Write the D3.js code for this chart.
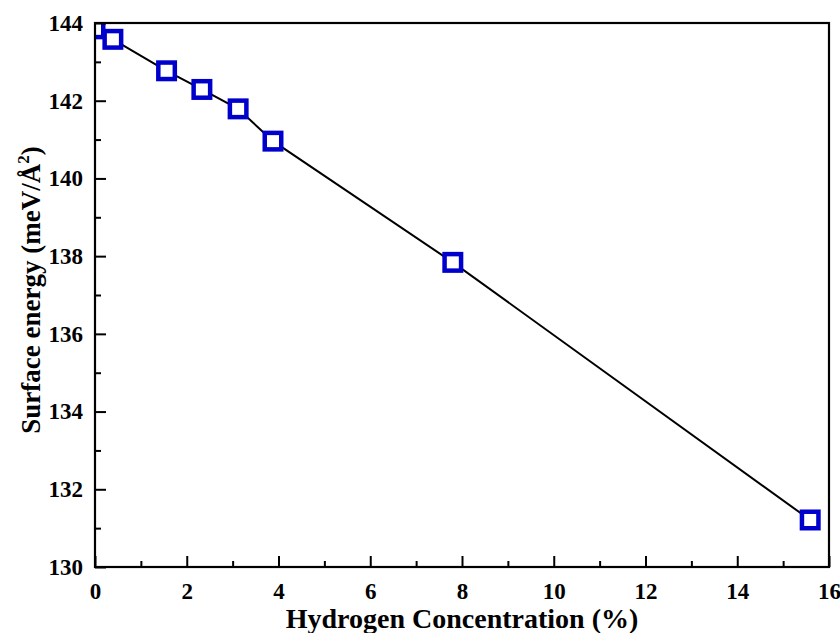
<!DOCTYPE html>
<html>
<head>
<meta charset="utf-8">
<script src="https://cdn.jsdelivr.net/npm/d3@7"></script>
<style>
  html, body { margin: 0; padding: 0; background: #fff; }
  svg { display: block; }
  text { font-family: "Liberation Serif", "Times New Roman", serif; font-weight: bold; fill: #000; }
</style>
</head>
<body>
<svg id="chart" width="840" height="633"></svg>
<script>
// Data
const hydrogen = [0.0, 0.39, 1.56, 2.33, 3.12, 3.88, 7.80, 15.59];
const surfaceEnergy = [143.85, 143.58, 142.77, 142.29, 141.79, 140.96, 137.84, 131.21];
const xTickValues = [0, 2, 4, 6, 8, 10, 12, 14, 16];
const yTickValues = [130, 132, 134, 136, 138, 140, 142, 144];
const xMinorValues = [1, 3, 5, 7, 9, 11, 13, 15];
const yMinorValues = [131, 133, 135, 137, 139, 141, 143];
const xTitle = "Hydrogen Concentration (%)";

const svg = d3.select("#chart");
const L = 95, R = 829, T = 23, B = 567;
const SERIF = '"Liberation Serif", "Times New Roman", serif';

const x = d3.scaleLinear().domain([0, 16]).range([L, R]);
const y = d3.scaleLinear().domain([130, 144]).range([B, T]);

svg.append("defs").append("clipPath").attr("id", "plotclip")
  .append("rect").attr("x", L).attr("y", T).attr("width", R - L).attr("height", B - T);

const data = hydrogen.map((h, i) => ({ h, e: surfaceEnergy[i] }));

const plot = svg.append("g").attr("clip-path", "url(#plotclip)");

plot.append("path")
  .datum(data)
  .attr("fill", "none")
  .attr("stroke", "#000")
  .attr("stroke-width", 2)
  .attr("d", d3.line().x(d => x(d.h)).y(d => y(d.e)));

const ms = 16.5;
plot.selectAll("rect.mk")
  .data(data)
  .enter().append("rect")
  .attr("class", "mk")
  .attr("x", d => x(d.h) - ms / 2)
  .attr("y", d => y(d.e) - ms / 2)
  .attr("width", ms)
  .attr("height", ms)
  .attr("fill", "#fff")
  .attr("stroke", "#0000cc")
  .attr("stroke-width", 4.5);

const xAxis = d3.axisBottom(x).tickValues(xTickValues).tickSize(-11).tickPadding(16).tickFormat(d3.format("d"));
const xMinor = d3.axisBottom(x).tickValues(xMinorValues).tickSize(-6).tickFormat("");
const yAxis = d3.axisLeft(y).tickValues(yTickValues).tickSize(-11).tickPadding(12).tickFormat(d3.format("d"));
const yMinor = d3.axisLeft(y).tickValues(yMinorValues).tickSize(-6).tickFormat("");

function styleAxis(g) {
  g.attr("font-family", SERIF).attr("font-size", 23).attr("font-weight", "bold");
  g.select(".domain").remove();
  g.selectAll(".tick line").attr("stroke", "#000").attr("stroke-width", 2);
  g.selectAll(".tick text")
    .style("font-size", "23px")
    .style("font-family", SERIF)
    .style("font-weight", "bold")
    .attr("fill", "#000");
}

svg.append("g").attr("transform", `translate(0,${B})`).call(xAxis).call(styleAxis);
svg.append("g").attr("transform", `translate(0,${B})`).call(xMinor).call(styleAxis);
svg.append("g").attr("transform", `translate(${L},0)`).call(yAxis).call(styleAxis);
svg.append("g").attr("transform", `translate(${L},0)`).call(yMinor).call(styleAxis);

svg.append("rect")
  .attr("x", L).attr("y", T).attr("width", R - L).attr("height", B - T)
  .attr("fill", "none").attr("stroke", "#000").attr("stroke-width", 2.2);

svg.append("text")
  .attr("x", (L + R) / 2)
  .attr("y", 628)
  .attr("text-anchor", "middle")
  .style("font-family", SERIF)
  .style("font-size", "28px")
  .text(xTitle);

const yt = svg.append("text")
  .attr("transform", "translate(40,290) rotate(-90)")
  .attr("text-anchor", "middle")
  .style("font-family", SERIF)
  .style("font-size", "27px");
yt.append("tspan").text("Surface energy (meV/Å");
yt.append("tspan").attr("dy", -11).style("font-size", "17px").text("2");
yt.append("tspan").attr("dy", 11).text(")");
</script>
</body>
</html>
